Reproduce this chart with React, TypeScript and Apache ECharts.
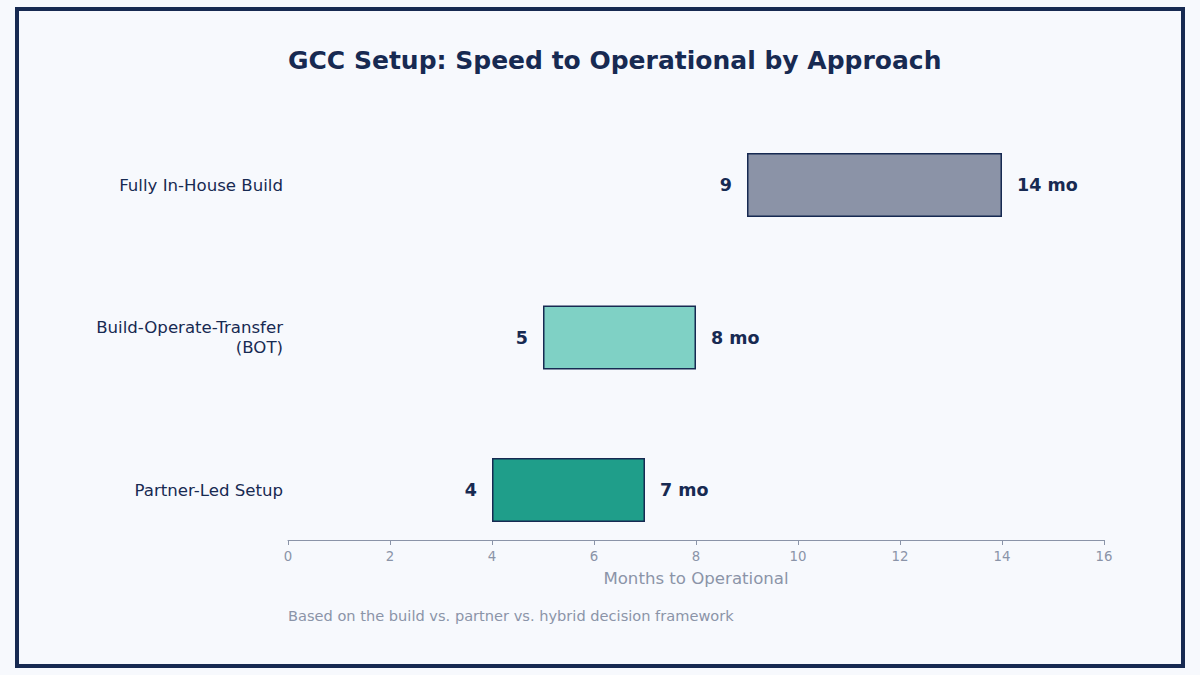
import { useEffect, useRef } from "react";
import * as echarts from "echarts";

const categories = ["Partner-Led Setup", "Build-Operate-Transfer\n(BOT)", "Fully In-House Build"];
const startMonths = [4, 5, 9];
const endMonths = [7, 8, 14];
const barColors = ["#1f9e8a", "#7fd1c5", "#8b93a7"];

const NAVY = "#172a52";
const GREY = "#8b94a8";
const FONT = "DejaVu Sans";

export default function App() {
  const chartDiv = useRef<HTMLDivElement>(null);

  useEffect(() => {
    if (!chartDiv.current) return;
    const chart = echarts.init(chartDiv.current, undefined, { renderer: "svg" });

    chart.setOption({
      animation: false,
      backgroundColor: "#f7f9fd",
      textStyle: { fontFamily: FONT },
      title: {
        text: "GCC Setup: Speed to Operational by Approach",
        left: 283,
        top: 43,
        textStyle: { color: NAVY, fontSize: 25, fontWeight: "bold", fontFamily: FONT },
      },
      graphic: [
        {
          type: "rect",
          shape: { x: 17, y: 9, width: 1166, height: 657 },
          style: { fill: "none", stroke: NAVY, lineWidth: 4 },
          silent: true,
        },
        {
          type: "text",
          left: 288,
          top: 608,
          style: {
            text: "Based on the build vs. partner vs. hybrid decision framework",
            fill: GREY,
            fontSize: 14.6,
            fontFamily: FONT,
          },
        },
      ],
      grid: { left: 288, right: 96, top: 185, bottom: 185, containLabel: false },
      xAxis: {
        type: "value",
        min: 0,
        max: 16,
        interval: 2,
        offset: 50,
        name: "Months to Operational",
        nameLocation: "middle",
        nameGap: 30,
        nameTextStyle: { color: GREY, fontSize: 16.6, fontFamily: FONT },
        axisLine: { show: true, lineStyle: { color: GREY, width: 1 } },
        axisTick: { show: true, length: 5, lineStyle: { color: GREY } },
        axisLabel: { color: GREY, fontSize: 13.3, margin: 10, fontFamily: FONT },
        splitLine: { show: false },
      },
      yAxis: {
        type: "category",
        data: categories,
        boundaryGap: false,
        axisLine: { show: false },
        axisTick: { show: false },
        axisLabel: {
          color: NAVY,
          fontSize: 16.6,
          margin: 5,
          align: "right",
          lineHeight: 20,
          padding: [5, 0, 0, 0],
          fontFamily: FONT,
        },
      },
      series: [
        {
          type: "bar",
          stack: "range",
          data: startMonths,
          barWidth: 64,
          itemStyle: { color: "transparent" },
          label: {
            show: true,
            position: "insideRight",
            distance: 15,
            color: NAVY,
            fontSize: 17.5,
            fontWeight: "bold",
            fontFamily: FONT,
            formatter: (p: any) => String(startMonths[p.dataIndex]),
          },
          silent: true,
        },
        {
          type: "bar",
          stack: "range",
          barWidth: 64,
          data: endMonths.map((e, i) => ({
            value: e - startMonths[i],
            itemStyle: { color: barColors[i], borderColor: NAVY, borderWidth: 1.5 },
          })),
          label: {
            show: true,
            position: "right",
            distance: 15,
            color: NAVY,
            fontSize: 17.5,
            fontWeight: "bold",
            fontFamily: FONT,
            formatter: (p: any) => `${endMonths[p.dataIndex]} mo`,
          },
        },
      ],
    });

    return () => chart.dispose();
  }, []);

  return (
    <div
      ref={chartDiv}
      style={{ position: "fixed", left: 0, top: 0, width: 1200, height: 675 }}
    />
  );
}
